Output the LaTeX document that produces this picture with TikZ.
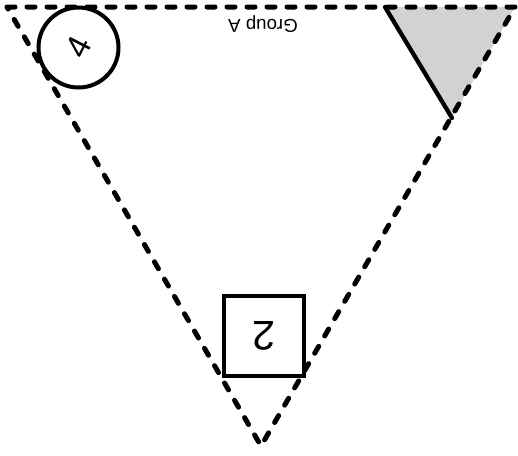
\documentclass[tikz,border=0pt]{standalone}
\usepackage{fontspec}
\setmainfont{Liberation Sans}
\usetikzlibrary{positioning}

\begin{document}
\begin{tikzpicture}[
            x=0.75pt, y=-0.75pt,
            edge/.style={line width=3.75pt, line cap=round, dash pattern=on 6pt off 9pt},
            mark4/.style={circle, draw, line width=3pt, minimum size=60pt, inner sep=0pt},
            box/.style={rectangle, draw, line width=3.6pt, minimum size=60pt, inner sep=0pt},
            shade/.style={fill=gray!35},
            cut/.style={line width=3.2pt, line cap=round}
        ]
            \useasboundingbox (0,0) rectangle (518,455);
            \coordinate (tl) at (7,7);
            \coordinate (tr) at (515,7);
            \coordinate (bot) at (261,446);
            \coordinate (gtop) at (385,7);
            \coordinate (gtip) at (452,118);

            \fill[shade] (gtop) -- (tr) -- (gtip) -- cycle;
            \draw[cut] (gtop) -- (gtip);
            \draw[edge] (tl) -- (tr) -- (bot) -- cycle;

            \node[mark4, fill=white] (four) at (78.5,47.5) {\fontsize{25}{28}\selectfont\rotatebox{63}{4}};
            \node[box, fill=white] (two) at (264,336) {\fontsize{31}{34}\selectfont\rotatebox{180}{2}};
            \node[rotate=180, inner sep=0pt] (grp) at (263,24) {\fontsize{14}{16}\selectfont Group A};
        \end{tikzpicture}
\end{document}
